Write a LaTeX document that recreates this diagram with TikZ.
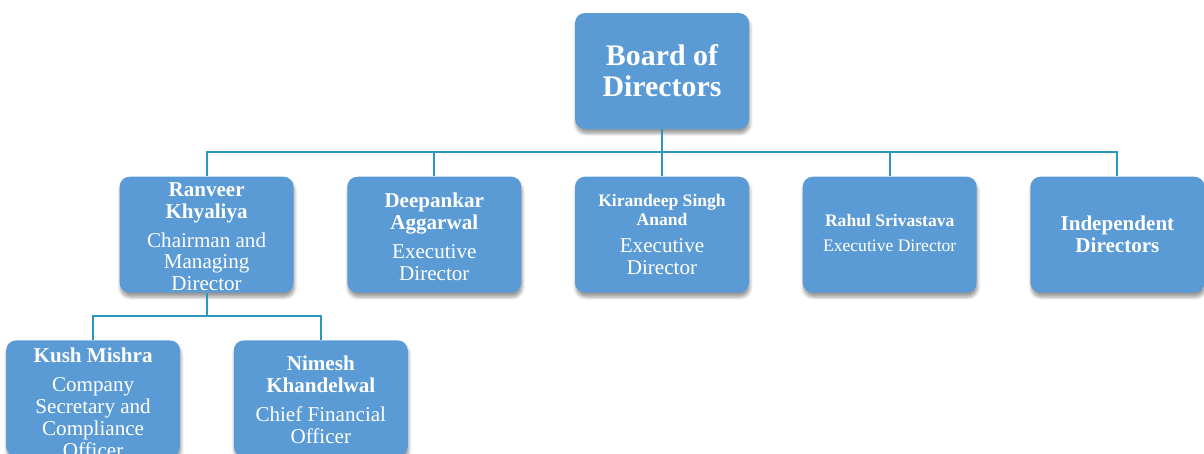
\documentclass[tikz,border=0pt]{standalone}
\usepackage{fontspec}
\setmainfont{Liberation Serif}
\usetikzlibrary{positioning,shadows.blur}
\definecolor{boxblue}{RGB}{91,155,213}
\definecolor{linkblue}{RGB}{43,150,190}
\begin{document}
\begin{tikzpicture}[
        node distance=0.94cm and 1.06cm,
        box/.style={fill=boxblue, rectangle, rounded corners=0.2cm, minimum width=3.48cm, minimum height=2.32cm, inner sep=0pt,
            blur shadow={shadow xshift=0.5pt, shadow yshift=-2.5pt, shadow blur steps=6, shadow opacity=40}},
        txt/.style={text=white, align=center, inner sep=0pt, font=\fontsize{12}{12.5}\selectfont},
        link/.style={draw=linkblue, line width=1.1pt}
    ]
    \useasboundingbox (0,0) rectangle (24.08,-9.06);
    % Nodes
    \node[box] (board) at (13.24,-1.42) {};
    \node[box] (kirandeep) [below=of board] {};
    \node[box] (deepankar) [left=of kirandeep] {};
    \node[box] (ranveer) [left=of deepankar] {};
    \node[box] (rahul) [right=of kirandeep] {};
    \node[box] (independent) [right=of rahul] {};
    \node[box] (kush) [below=of ranveer, xshift=-2.27cm] {};
    \node[box] (nimesh) [right=of kush] {};

    % Texts
    \node[txt, font=\fontsize{17}{17.5}\selectfont\bfseries] (boardtxt) at (board) {Board of\\Directors};
    \node[txt] (ranveertxt) at ([yshift=-0.04cm]ranveer) {\textbf{Ranveer}\\\textbf{Khyaliya}\\[4pt]Chairman and\\Managing\\Director};
    \node[txt] (deepankartxt) at ([yshift=-0.04cm]deepankar) {\textbf{Deepankar}\\\textbf{Aggarwal}\\[4pt]Executive\\Director};
    \node[txt] (kirandeeptxt) at (kirandeep) {{\fontsize{10}{10.5}\selectfont\textbf{Kirandeep Singh}}\\[-2pt]{\fontsize{10}{10.5}\selectfont\textbf{Anand}}\\[3pt]Executive\\Director};
    \node[txt, font=\fontsize{10}{10.5}\selectfont] (rahultxt) at ([yshift=0.03cm]rahul) {\textbf{Rahul Srivastava}\\[4pt]Executive Director};
    \node[txt, font=\fontsize{12}{12.5}\selectfont\bfseries] (independenttxt) at (independent) {Independent\\Directors};
    \node[txt] (kushtxt) at ([yshift=-0.08cm]kush) {\textbf{Kush Mishra}\\[4pt]Company\\Secretary and\\Compliance\\Officer};
    \node[txt] (nimeshtxt) at ([yshift=-0.02cm]nimesh) {\textbf{Nimesh}\\\textbf{Khandelwal}\\[4pt]Chief Financial\\Officer};

    % Arrows
    \foreach \n in {ranveer,deepankar,kirandeep,rahul,independent}
        \draw[link] (board.south) -- ++(0,-0.46) -| (\n.north);
    \foreach \n in {kush,nimesh}
        \draw[link] (ranveer.south) -- ++(0,-0.46) -| (\n.north);
\end{tikzpicture}
\end{document}
